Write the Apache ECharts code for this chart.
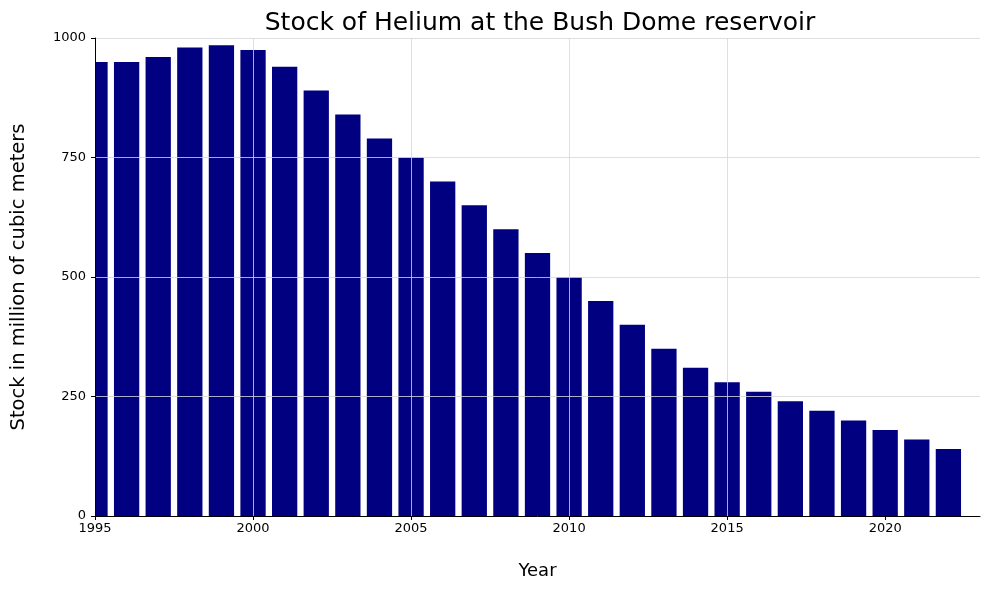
<!DOCTYPE html>
<html>
<head>
<meta charset="utf-8">
<script src="https://cdn.jsdelivr.net/npm/echarts@6/dist/echarts.min.js"></script>
<style>html,body{margin:0;padding:0;background:#fff}#c{width:989px;height:590px}</style>
</head>
<body>
<div id="c"></div>
<script>
const years = [1995,1996,1997,1998,1999,2000,2001,2002,2003,2004,2005,2006,2007,2008,2009,2010,2011,2012,2013,2014,2015,2016,2017,2018,2019,2020,2021,2022];
const stock = [950,950,960,980,985,975,940,890,840,790,750,700,650,600,550,500,450,400,350,310,280,260,240,220,200,180,160,140];
const xTicks = [1995,2000,2005,2010,2015,2020];
const yTicks = [0,250,500,750,1000];

const chart = echarts.init(document.getElementById('c'), null, {renderer:'canvas'});
const font = 'DejaVu Sans';
chart.setOption({
  animation: false,
  title: {
    text: 'Stock of Helium at the Bush Dome reservoir',
    left: 535, top: 6, textAlign: 'center',
    textStyle: {fontFamily: font, fontSize: 25, fontWeight: 'normal', color: '#000'}
  },
  grid: {left: 95, right: 9, top: 38, bottom: 74, containLabel: false},
  xAxis: {
    type: 'value', min: 1995, max: 2023, interval: 5, z: 5,
    name: 'Year', nameLocation: 'middle', nameGap: 46,
    nameTextStyle: {fontFamily: font, fontSize: 18, color: '#000'},
    axisLine: {show: true, lineStyle: {color: '#000', width: 1}},
    axisTick: {show: true, length: 4, lineStyle: {color: '#000'}, customValues: xTicks},
    axisLabel: {fontFamily: font, fontSize: 13, color: '#000', margin: 6, customValues: xTicks,
      formatter: v => String(v)},
    splitLine: {show: true, showMaxLine: false, lineStyle: {color: 'rgba(215,215,215,0.8)', width: 1}}
  },
  yAxis: {
    type: 'value', min: 0, max: 1000, interval: 250, z: 5,
    name: 'Stock in million of cubic meters', nameLocation: 'middle', nameGap: 66,
    nameTextStyle: {fontFamily: font, fontSize: 19.5, color: '#000'},
    axisLine: {show: true, lineStyle: {color: '#000', width: 1}},
    axisTick: {show: true, length: 4, lineStyle: {color: '#000'}},
    axisLabel: {fontFamily: font, fontSize: 13, color: '#000', margin: 9,
      formatter: v => yTicks.includes(v) ? String(v) : ''},
    splitLine: {show: true, lineStyle: {color: 'rgba(215,215,215,0.8)', width: 1}}
  },
  series: [{
    type: 'custom', z: 1,
    data: years.map((y, i) => [y, stock[i]]),
    renderItem: function (params, api) {
      const x = api.value(0), v = api.value(1);
      const p1 = api.coord([x - 0.4, v]);
      const p2 = api.coord([x + 0.4, 0]);
      const shape = echarts.graphic.clipRectByRect(
        {x: p1[0], y: p1[1], width: p2[0] - p1[0], height: p2[1] - p1[1]},
        {x: params.coordSys.x, y: params.coordSys.y, width: params.coordSys.width, height: params.coordSys.height}
      );
      if (!shape) return null;
      return {type: 'rect', shape: shape, style: {fill: '#000080'}};
    }
  }]
});
</script>
</body>
</html>
